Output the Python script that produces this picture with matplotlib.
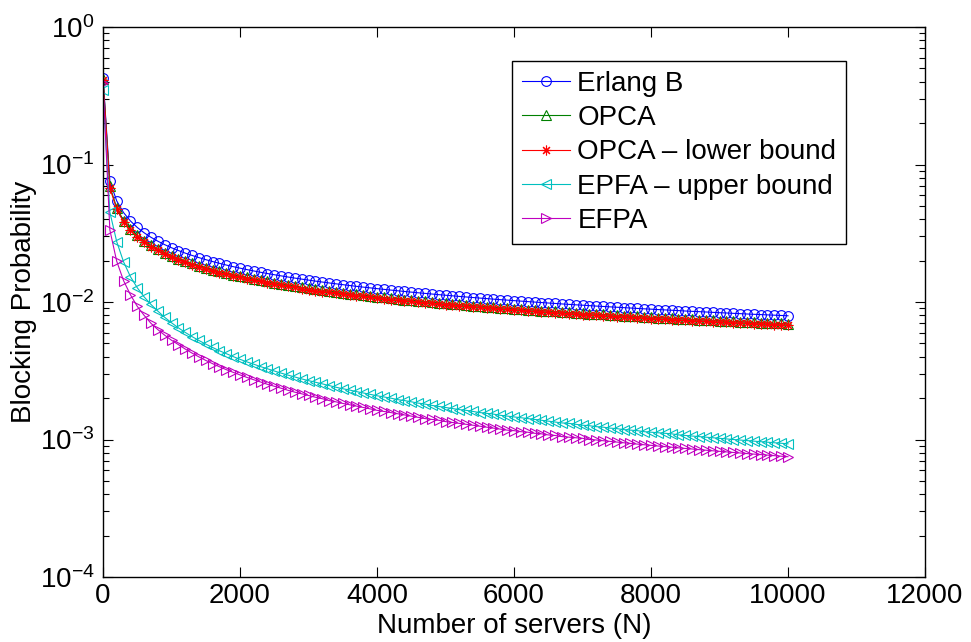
import matplotlib
matplotlib.use('Agg')
import matplotlib.pyplot as plt
from matplotlib.ticker import LogLocator, NullFormatter

plt.rcParams['font.family'] = ['Liberation Sans', 'DejaVu Sans']
plt.rcParams['mathtext.fontset'] = 'custom'
plt.rcParams['mathtext.rm'] = 'Liberation Sans'
plt.rcParams['mathtext.it'] = 'Liberation Sans:italic'

# number of servers
servers = [1] + list(range(100, 10001, 100))

erlang_b = [0.426,
    0.0758, 0.05437, 0.04469, 0.03886, 0.03485, 0.03188, 0.02956, 0.02769, 0.02613, 0.02481,
    0.02368, 0.02268, 0.02181, 0.02103, 0.02032, 0.01969, 0.01911, 0.01857, 0.01808, 0.01763,
    0.01721, 0.01682, 0.01645, 0.01611, 0.01579, 0.01549, 0.01520, 0.01493, 0.01467, 0.01443,
    0.01419, 0.01397, 0.01376, 0.01356, 0.01337, 0.01318, 0.01300, 0.01283, 0.01267, 0.01251,
    0.01236, 0.01221, 0.01207, 0.01193, 0.01180, 0.01167, 0.01155, 0.01143, 0.01131, 0.01120,
    0.01109, 0.01098, 0.01088, 0.01078, 0.01068, 0.01059, 0.01049, 0.01040, 0.01032, 0.01023,
    0.01015, 0.01007, 0.00999, 0.00991, 0.00983, 0.00976, 0.00968, 0.00961, 0.00954, 0.00948,
    0.00941, 0.00934, 0.00928, 0.00922, 0.00916, 0.00910, 0.00904, 0.00898, 0.00892, 0.00887,
    0.00881, 0.00876, 0.00871, 0.00866, 0.00860, 0.00855, 0.00851, 0.00846, 0.00841, 0.00836,
    0.00832, 0.00827, 0.00823, 0.00818, 0.00814, 0.00810, 0.00806, 0.00802, 0.00798, 0.00794]

opca = [0.420,
    0.0695, 0.0485, 0.0391, 0.0340, 0.0305, 0.0279, 0.0259, 0.0242, 0.0229, 0.0217,
    0.0207, 0.0198, 0.0191, 0.0184, 0.0178, 0.0172, 0.0167, 0.0162, 0.0158, 0.0154,
    0.0151, 0.0147, 0.0144, 0.0141, 0.0138, 0.0136, 0.0133, 0.0131, 0.0128, 0.0126,
    0.0124, 0.0122, 0.0120, 0.0119, 0.0117, 0.0115, 0.0114, 0.0112, 0.0111, 0.0109,
    0.0108, 0.0107, 0.0106, 0.0104, 0.0103, 0.0102, 0.0101, 0.0100, 0.00990, 0.00980,
    0.00970, 0.00961, 0.00952, 0.00943, 0.00935, 0.00927, 0.00918, 0.00910, 0.00903, 0.00895,
    0.00888, 0.00881, 0.00874, 0.00867, 0.00860, 0.00854, 0.00847, 0.00841, 0.00835, 0.00830,
    0.00823, 0.00817, 0.00812, 0.00807, 0.00802, 0.00796, 0.00791, 0.00786, 0.00781, 0.00776,
    0.00771, 0.00767, 0.00762, 0.00758, 0.00753, 0.00748, 0.00745, 0.00740, 0.00736, 0.00732,
    0.00728, 0.00724, 0.00720, 0.00716, 0.00712, 0.00709, 0.00705, 0.00702, 0.00698, 0.00695]

opca_lower = [0.415,
    0.0675, 0.0475, 0.0382, 0.0332, 0.0298, 0.0273, 0.0253, 0.0237, 0.0223, 0.0212,
    0.0202, 0.0194, 0.0186, 0.0180, 0.0174, 0.0168, 0.0163, 0.0159, 0.0155, 0.0151,
    0.0147, 0.0144, 0.0141, 0.0138, 0.0135, 0.0132, 0.0130, 0.0128, 0.0125, 0.0123,
    0.0121, 0.0119, 0.0118, 0.0116, 0.0114, 0.0113, 0.0111, 0.0110, 0.0108, 0.0107,
    0.0106, 0.0104, 0.0103, 0.0102, 0.0101, 0.00998, 0.00988, 0.00977, 0.00967, 0.00958,
    0.00948, 0.00939, 0.00930, 0.00922, 0.00913, 0.00905, 0.00897, 0.00889, 0.00882, 0.00875,
    0.00868, 0.00861, 0.00854, 0.00847, 0.00840, 0.00834, 0.00828, 0.00822, 0.00816, 0.00811,
    0.00805, 0.00799, 0.00793, 0.00788, 0.00783, 0.00778, 0.00773, 0.00768, 0.00763, 0.00758,
    0.00753, 0.00749, 0.00745, 0.00740, 0.00735, 0.00731, 0.00728, 0.00723, 0.00719, 0.00715,
    0.00711, 0.00707, 0.00704, 0.00699, 0.00696, 0.00693, 0.00689, 0.00686, 0.00682, 0.00679]

epfa_upper = [0.348,
    0.0450, 0.0275, 0.0196, 0.0153, 0.0127, 0.0109, 0.00960, 0.00859, 0.00774, 0.00706,
    0.00649, 0.00601, 0.00560, 0.00525, 0.00494, 0.00467, 0.00442, 0.00421, 0.00401, 0.00383,
    0.00367, 0.00353, 0.00339, 0.00327, 0.00315, 0.00304, 0.00294, 0.00285, 0.00276, 0.00268,
    0.00261, 0.00254, 0.00247, 0.00240, 0.00234, 0.00229, 0.00223, 0.00218, 0.00213, 0.00208,
    0.00204, 0.00200, 0.00195, 0.00192, 0.00188, 0.00184, 0.00181, 0.00177, 0.00174, 0.00171,
    0.00168, 0.00165, 0.00163, 0.00160, 0.00157, 0.00155, 0.00153, 0.00150, 0.00148, 0.00146,
    0.00144, 0.00142, 0.00140, 0.00138, 0.00136, 0.00134, 0.00132, 0.00131, 0.00129, 0.00127,
    0.00126, 0.00124, 0.00123, 0.00121, 0.00120, 0.00118, 0.00117, 0.00116, 0.00114, 0.00113,
    0.00112, 0.00111, 0.00110, 0.00108, 0.00107, 0.00106, 0.00105, 0.00104, 0.00103, 0.00102,
    0.00101, 0.00100, 0.000991, 0.000982, 0.000973, 0.000964, 0.000956, 0.000947, 0.000939, 0.000930]

efpa = [0.392,
    0.0334, 0.0198, 0.0143, 0.0113, 0.0093, 0.0080, 0.0070, 0.00630, 0.00574, 0.00527,
    0.00490, 0.00455, 0.00425, 0.00399, 0.00376, 0.00356, 0.00338, 0.00322, 0.00308, 0.00295,
    0.00283, 0.00272, 0.00262, 0.00252, 0.00244, 0.00236, 0.00228, 0.00221, 0.00215, 0.00209,
    0.00203, 0.00198, 0.00192, 0.00188, 0.00183, 0.00179, 0.00175, 0.00171, 0.00167, 0.00163,
    0.00160, 0.00157, 0.00154, 0.00151, 0.00148, 0.00145, 0.00142, 0.00140, 0.00138, 0.00135,
    0.00133, 0.00131, 0.00129, 0.00127, 0.00125, 0.00123, 0.00121, 0.00119, 0.00117, 0.00116,
    0.00114, 0.00113, 0.00111, 0.00110, 0.00108, 0.00107, 0.00105, 0.00104, 0.00103, 0.00102,
    0.00100, 0.000992, 0.000980, 0.000969, 0.000958, 0.000947, 0.000936, 0.000926, 0.000916, 0.000907,
    0.000897, 0.000888, 0.000879, 0.000870, 0.000861, 0.000853, 0.000844, 0.000836, 0.000828, 0.000820,
    0.000813, 0.000805, 0.000798, 0.000790, 0.000783, 0.000777, 0.000770, 0.000763, 0.000756, 0.000750]

labels = ['Erlang B', 'OPCA', 'OPCA \u2013 lower bound', 'EPFA \u2013 upper bound', 'EFPA']

fig = plt.figure(figsize=(9.71, 6.42), dpi=100)
ax = fig.add_axes([103/971, 65/642, 822/971, 550/642])

kw = dict(linewidth=0.8, markersize=7, markeredgewidth=0.8, markerfacecolor='none')
ax.semilogy(servers, erlang_b, '-', marker='o', color=(0, 0, 1), label=labels[0], **kw)
ax.semilogy(servers, opca, '-', marker='^', color=(0, 0.5, 0), label=labels[1], **kw)
ax.semilogy(servers, opca_lower, '-', marker=(8, 2, 0), color=(1, 0, 0), label=labels[2], **kw)
ax.semilogy(servers, epfa_upper, '-', marker='<', color=(0, 0.75, 0.75), label=labels[3], **kw)
ax.semilogy(servers, efpa, '-', marker='>', color=(0.75, 0, 0.75), label=labels[4], **kw)

ax.set_xlim(0, 12000)
ax.set_ylim(1e-4, 1)
ax.set_xticks(range(0, 12001, 2000))
ax.yaxis.set_major_locator(LogLocator(base=10, numticks=10))
ax.yaxis.set_minor_locator(LogLocator(base=10, subs=range(2, 10), numticks=50))
ax.yaxis.set_minor_formatter(NullFormatter())

ax.tick_params(which='both', direction='in', top=True, right=True, labelsize=20, width=0.8)
ax.tick_params(which='major', length=7)
ax.tick_params(which='minor', length=4)
ax.tick_params(axis='x', pad=4)
ax.tick_params(axis='y', pad=6)
for s in ax.spines.values():
    s.set_linewidth(1.0)

ax.set_xlabel('Number of servers (N)', fontsize=20, labelpad=3)
ax.set_ylabel('Blocking Probability', fontsize=20, labelpad=2)

leg = ax.legend(loc='upper left', bbox_to_anchor=(0.4976, 0.938), fontsize=20,
                numpoints=1, handlelength=1.75, handletextpad=0.25, labelspacing=0.3,
                borderpad=0.35, borderaxespad=0, fancybox=False, framealpha=1,
                edgecolor='black')
leg.get_frame().set_linewidth(1.0)

plt.savefig('out.png', dpi=100)
